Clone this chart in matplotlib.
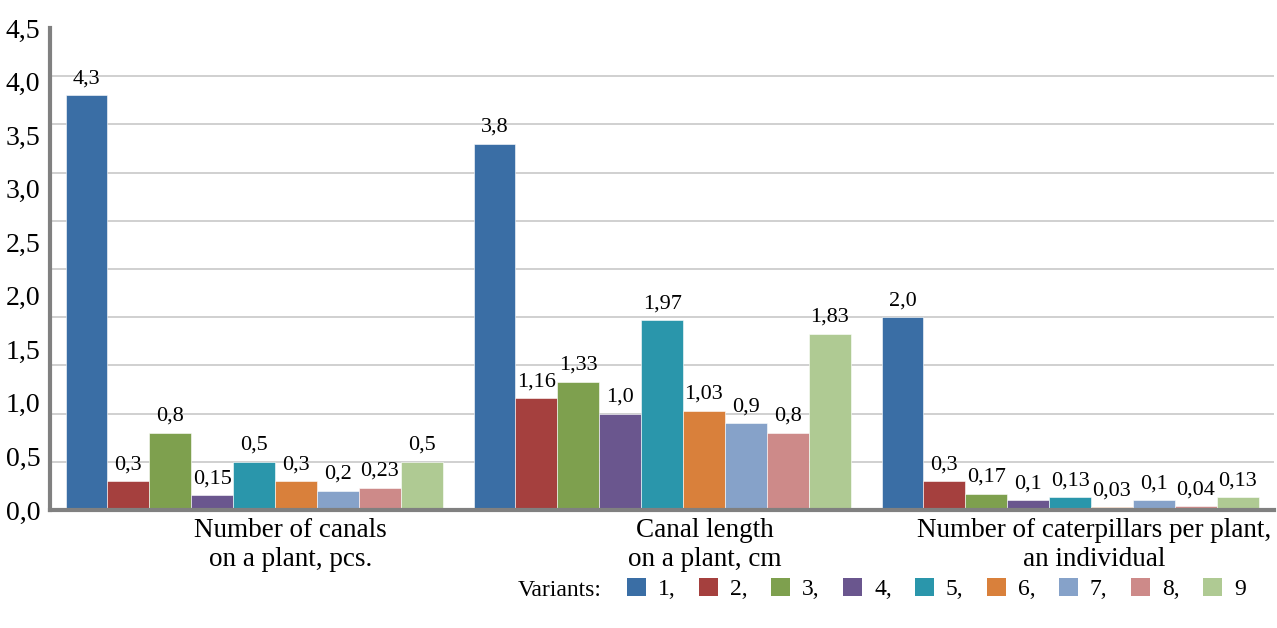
import matplotlib.pyplot as plt
from matplotlib.patches import Patch
import numpy as np

plt.rcParams['font.family'] = ['Liberation Serif', 'DejaVu Serif']

categories = ["Number of canals\non a plant, pcs.",
              "Canal length\non a plant, cm",
              "Number of caterpillars per plant,\nan individual"]
variants = ["1", "2", "3", "4", "5", "6", "7", "8", "9"]

# values per variant across the three categories
v1 = [4.3, 3.8, 2.0]
v2 = [0.3, 1.16, 0.3]
v3 = [0.8, 1.33, 0.17]
v4 = [0.15, 1.0, 0.1]
v5 = [0.5, 1.97, 0.13]
v6 = [0.3, 1.03, 0.03]
v7 = [0.2, 0.9, 0.1]
v8 = [0.23, 0.8, 0.04]
v9 = [0.5, 1.83, 0.13]
series = [v1, v2, v3, v4, v5, v6, v7, v8, v9]

# value label text as printed on the chart
lab1 = ["4,3", "3,8", "2,0"]
lab2 = ["0,3", "1,16", "0,3"]
lab3 = ["0,8", "1,33", "0,17"]
lab4 = ["0,15", "1,0", "0,1"]
lab5 = ["0,5", "1,97", "0,13"]
lab6 = ["0,3", "1,03", "0,03"]
lab7 = ["0,2", "0,9", "0,1"]
lab8 = ["0,23", "0,8", "0,04"]
lab9 = ["0,5", "1,83", "0,13"]
labels = [lab1, lab2, lab3, lab4, lab5, lab6, lab7, lab8, lab9]

ytick_labels = ["0,0", "0,5", "1,0", "1,5", "2,0", "2,5", "3,0", "3,5", "4,0", "4,5"]

colors = ["#3A6EA5", "#A5403E", "#7EA04E", "#6A568E", "#2A96AB",
          "#D9803B", "#86A2C9", "#CD8A89", "#AFCA93"]

fig = plt.figure(figsize=(12.77, 6.28), dpi=100)
ax = fig.add_axes([0.0392, 0.188, 0.9585, 0.7675])

x = np.arange(len(categories))
bw = 0.1027
for i, (vals, labs) in enumerate(zip(series, labels)):
    pos = x - 4 * bw + i * bw
    bars = ax.bar(pos, vals, width=bw, color=colors[i], edgecolor='white', linewidth=0.4, zorder=3)
    for b, t in zip(bars, labs):
        ax.annotate(t, (b.get_x() + b.get_width() / 2, b.get_height()),
                    xytext=(0, 5), textcoords='offset points',
                    ha='center', va='bottom', fontsize=16, zorder=4)

ax.set_xlim(-0.5, 2.5)
ax.set_ylim(0, 5)
ax.set_yticks(np.arange(0, 5.01, 0.5), minor=True)
ax.grid(True, which='minor', axis='y', color='#d0d0d0', linewidth=1.4, zorder=0)
ax.set_yticks(np.linspace(0, 5, len(ytick_labels)))
ax.set_yticklabels(ytick_labels, fontsize=20)
ax.tick_params(axis='y', which='both', length=0, pad=7)

ax.set_xticks(x + np.array([0.09, 0.105, 0.06]))
ax.set_xticklabels(categories, fontsize=19.5, linespacing=1.2)
ax.tick_params(axis='x', length=0, pad=6)

for s in ['top', 'right']:
    ax.spines[s].set_visible(False)
for s in ['left', 'bottom']:
    ax.spines[s].set_color('#808080')
    ax.spines[s].set_linewidth(3)
    ax.spines[s].set_zorder(5)

handles = [Patch(facecolor=c) for c in colors]
leg_labels = [v + "," for v in variants[:-1]] + [variants[-1]]
fig.legend(handles, leg_labels, ncol=9, loc='lower right', bbox_to_anchor=(0.992, 0.01),
           frameon=False, fontsize=17, handlelength=0.8, handleheight=0.8,
           handletextpad=0.5, columnspacing=1.0)
fig.text(0.471, 0.06, "Variants:", fontsize=17, ha='right', va='center')

fig.savefig("out.png", dpi=100)
